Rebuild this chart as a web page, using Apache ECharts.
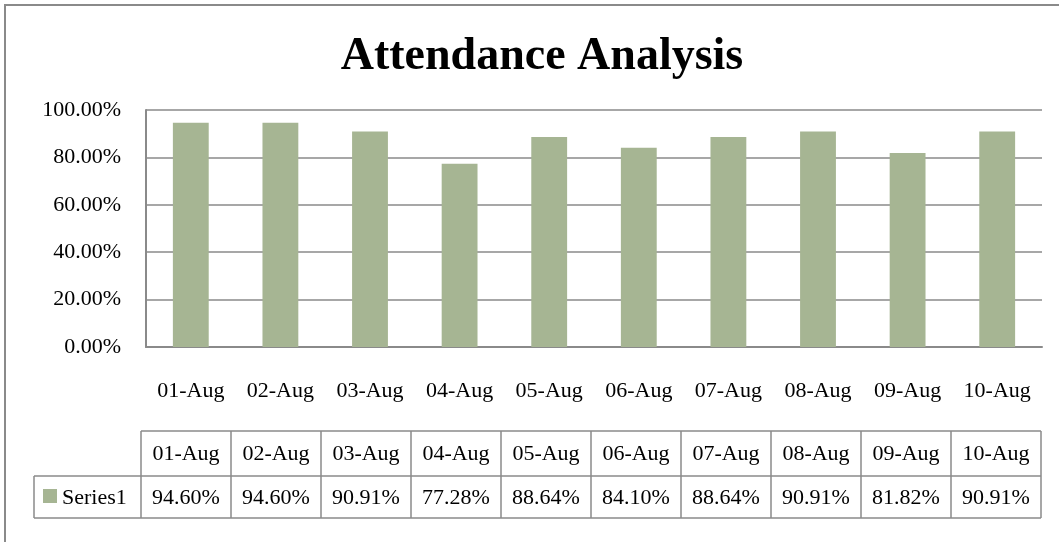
<!DOCTYPE html>
<html>
<head>
<meta charset="utf-8">
<script src="https://cdn.jsdelivr.net/npm/echarts@6/dist/echarts.min.js"></script>
<style>
html,body{margin:0;padding:0;background:#fff;}
#chart{width:1059px;height:542px;}
</style>
</head>
<body>
<div id="chart"></div>
<script>
const categories = ['01-Aug','02-Aug','03-Aug','04-Aug','05-Aug','06-Aug','07-Aug','08-Aug','09-Aug','10-Aug'];
const attendance = [0.9460, 0.9460, 0.9091, 0.7728, 0.8864, 0.8410, 0.8864, 0.9091, 0.8182, 0.9091];
const seriesName = 'Series1';
const chartTitle = 'Attendance Analysis';

const FONT = 'Liberation Serif';
const FS = 22;
const GRAY = '#8a8a8a';
const BAR = '#A6B593';
const pct = v => (v * 100).toFixed(2) + '%';

// table layout
const tLeft = 141, colW = 90, rowTop = 431, rowMid = 476, rowBot = 518, keyLeft = 34;
const tRight = tLeft + colW * categories.length;
const g = [];
const line = (x1, y1, x2, y2) => g.push({type:'line', shape:{x1,y1,x2,y2}, style:{stroke:GRAY, lineWidth:1.5}, silent:true});
line(tLeft, rowTop, tRight, rowTop);
line(keyLeft, rowMid, tRight, rowMid);
line(keyLeft, rowBot, tRight, rowBot);
line(keyLeft, rowMid, keyLeft, rowBot);
for (let i = 0; i <= categories.length; i++) line(tLeft + colW*i, rowTop, tLeft + colW*i, rowBot);
const tfont = FS + 'px "' + FONT + '"';
categories.forEach((c, i) => {
  g.push({type:'text', x: tLeft + colW*i + colW/2, y: (rowTop+rowMid)/2 + 1,
    style:{text:c, font:tfont, fill:'#000', textAlign:'center', textVerticalAlign:'middle'}});
  g.push({type:'text', x: tLeft + colW*i + colW/2, y: (rowMid+rowBot)/2 + 1,
    style:{text:pct(attendance[i]), font:tfont, fill:'#000', textAlign:'center', textVerticalAlign:'middle'}});
});
g.push({type:'rect', shape:{x:43, y:489, width:14, height:14}, style:{fill:BAR}});
g.push({type:'text', x:62, y:(rowMid+rowBot)/2 + 1, style:{text:seriesName, font:tfont, fill:'#000', textAlign:'left', textVerticalAlign:'middle'}});
// outer chart border
g.push({type:'rect', shape:{x:5, y:5, width:1080, height:560}, style:{fill:'none', stroke:GRAY, lineWidth:2}, silent:true});

const chart = echarts.init(document.getElementById('chart'), null, {renderer:'canvas'});
chart.setOption({
  animation:false,
  backgroundColor:'#fff',
  title:{text:chartTitle, left:537, textAlign:'center', top:29,
    textStyle:{fontFamily:FONT, fontWeight:'bold', fontSize:46, color:'#000'}},
  grid:{left:146, right:17, top:110, bottom:195, containLabel:false},
  xAxis:{type:'category', data:categories,
    axisLine:{show:true, lineStyle:{color:GRAY, width:2}},
    axisTick:{show:false},
    axisLabel:{fontFamily:FONT, fontSize:FS, color:'#000', margin:33, interval:0}},
  yAxis:{type:'value', min:0, max:1, interval:0.2,
    axisLine:{show:true, lineStyle:{color:GRAY, width:2}},
    axisTick:{show:false},
    splitLine:{lineStyle:{color:GRAY, width:1.5}},
    axisLabel:{fontFamily:FONT, fontSize:FS, color:'#000', margin:25, formatter:v => pct(v)}},
  series:[{type:'bar', name:seriesName, data:attendance, barWidth:'40%',
    itemStyle:{color:BAR}}],
  graphic:g
});
</script>
</body>
</html>
